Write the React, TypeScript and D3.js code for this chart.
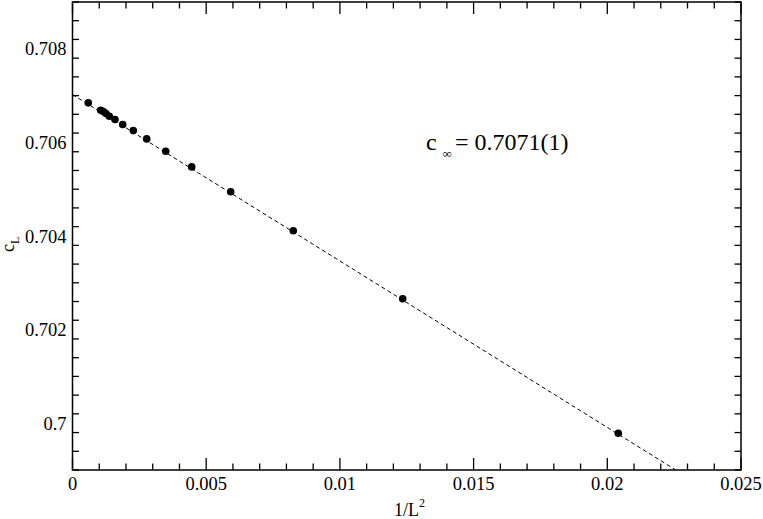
import React, { useEffect, useRef } from 'react';
import * as d3 from 'd3';

// 1/L^2 vs c_L
const invL2 = [
  0.000591, 0.001055, 0.001152, 0.001253, 0.001376, 0.001589, 0.001877, 0.002274,
  0.002775, 0.003485, 0.004458, 0.005916, 0.008257, 0.012348, 0.020411,
];
const cL = [
  0.706845, 0.706687, 0.706659, 0.706616, 0.706558, 0.706488, 0.706381, 0.706252,
  0.706075, 0.70581, 0.705476, 0.704944, 0.704113, 0.702659, 0.699786,
];

// dashed fit line endpoints
const fitX = [0, 0.02256];
const fitY = [0.707022, 0.699];

const xTicks = [0, 0.005, 0.01, 0.015, 0.02, 0.025];
const xTickLabels = ['0', '0.005', '0.01', '0.015', '0.02', '0.025'];
const yTicks = [0.7, 0.702, 0.704, 0.706, 0.708];
const yTickLabels = ['0.7', '0.702', '0.704', '0.706', '0.708'];

const W = 763;
const H = 519;
const FONT = 'Liberation Serif, DejaVu Serif, serif';

const App = () => {
  const ref = useRef<SVGSVGElement | null>(null);

  useEffect(() => {
    const el = ref.current;
    if (!el) return;
    const svg = d3.select(el);
    svg.selectAll('*').remove();

    const left = 72.5;
    const right = 741;
    const top = 2;
    const bottom = 470;

    const x = d3.scaleLinear().domain([0, 0.025]).range([left, right]);
    const y = d3.scaleLinear().domain([0.699, 0.709]).range([bottom, top]);

    const major = 12;
    const minor = 6.5;

    const g = svg.append('g').attr('font-family', FONT);

    const xMinor = d3.range(0, 26).map((i) => i * 0.001);
    const yMinor = d3.range(0, 26).map((i) => 0.699 + i * 0.0004).filter((v) => v < 0.70901);

    const tickG = g.append('g').attr('stroke', '#000').attr('stroke-width', 1.3);

    xMinor.forEach((v, i) => {
      const len = i % 5 === 0 ? major : minor;
      const px = x(v);
      tickG.append('line').attr('x1', px).attr('x2', px).attr('y1', bottom).attr('y2', bottom - len);
      tickG.append('line').attr('x1', px).attr('x2', px).attr('y1', top).attr('y2', top + len);
    });

    yMinor.forEach((v) => {
      const isMajor = yTicks.some((t) => Math.abs(t - v) < 1e-7);
      const len = isMajor ? major : minor;
      const py = y(v);
      tickG.append('line').attr('x1', left).attr('x2', left + len).attr('y1', py).attr('y2', py);
      tickG.append('line').attr('x1', right).attr('x2', right - len).attr('y1', py).attr('y2', py);
    });

    g.append('rect')
      .attr('x', left)
      .attr('y', top)
      .attr('width', right - left)
      .attr('height', bottom - top)
      .attr('fill', 'none')
      .attr('stroke', '#000')
      .attr('stroke-width', 1.5);

    // tick labels
    g.selectAll('text.xl')
      .data(xTicks)
      .enter()
      .append('text')
      .attr('class', 'xl')
      .attr('x', (d) => x(d))
      .attr('y', 490)
      .attr('text-anchor', 'middle')
      .attr('font-size', 18.5)
      .text((d, i) => xTickLabels[i]);

    g.selectAll('text.yl')
      .data(yTicks)
      .enter()
      .append('text')
      .attr('class', 'yl')
      .attr('x', 66.5)
      .attr('y', (d) => y(d) + 6.5)
      .attr('text-anchor', 'end')
      .attr('font-size', 18.5)
      .text((d, i) => yTickLabels[i]);

    // fit line
    svg
      .append('defs')
      .append('clipPath')
      .attr('id', 'plot-clip')
      .append('rect')
      .attr('x', left)
      .attr('y', top)
      .attr('width', right - left)
      .attr('height', bottom - top);

    const line = d3
      .line<number>()
      .x((d) => x(d))
      .y((d, i) => y(fitY[i]));

    g.append('path')
      .attr('d', line(fitX))
      .attr('fill', 'none')
      .attr('stroke', '#000')
      .attr('stroke-width', 1)
      .attr('stroke-dasharray', '4,3')
      .attr('clip-path', 'url(#plot-clip)');

    g.selectAll('circle.pt')
      .data(invL2)
      .enter()
      .append('circle')
      .attr('class', 'pt')
      .attr('cx', (d) => x(d))
      .attr('cy', (d, i) => y(cL[i]))
      .attr('r', 3.8)
      .attr('fill', '#000');

    // annotation
    const ann = g.append('g');
    ann.append('text').attr('x', 426).attr('y', 150).attr('font-size', 24).text('c');
    ann.append('text').attr('x', 442.5).attr('y', 158).attr('font-size', 13).text('∞');
    ann.append('text').attr('x', 455).attr('y', 150).attr('font-size', 24).text('= 0.7071(1)');

    // axis titles
    const xt = g.append('text').attr('x', 394).attr('y', 516).attr('font-size', 18);
    xt.append('tspan').text('1/L');
    xt.append('tspan').attr('dy', -9).attr('font-size', 12).text('2');

    const yt = g
      .append('text')
      .attr('transform', 'translate(14,252) rotate(-90)')
      .attr('font-size', 18);
    yt.append('tspan').text('c');
    yt.append('tspan').attr('dy', 5).attr('font-size', 12).text('L');
  }, []);

  return (
    <svg
      ref={ref}
      width={W}
      height={H}
      style={{ position: 'absolute', left: 0, top: 0, background: '#fff' }}
    />
  );
};

export default App;
